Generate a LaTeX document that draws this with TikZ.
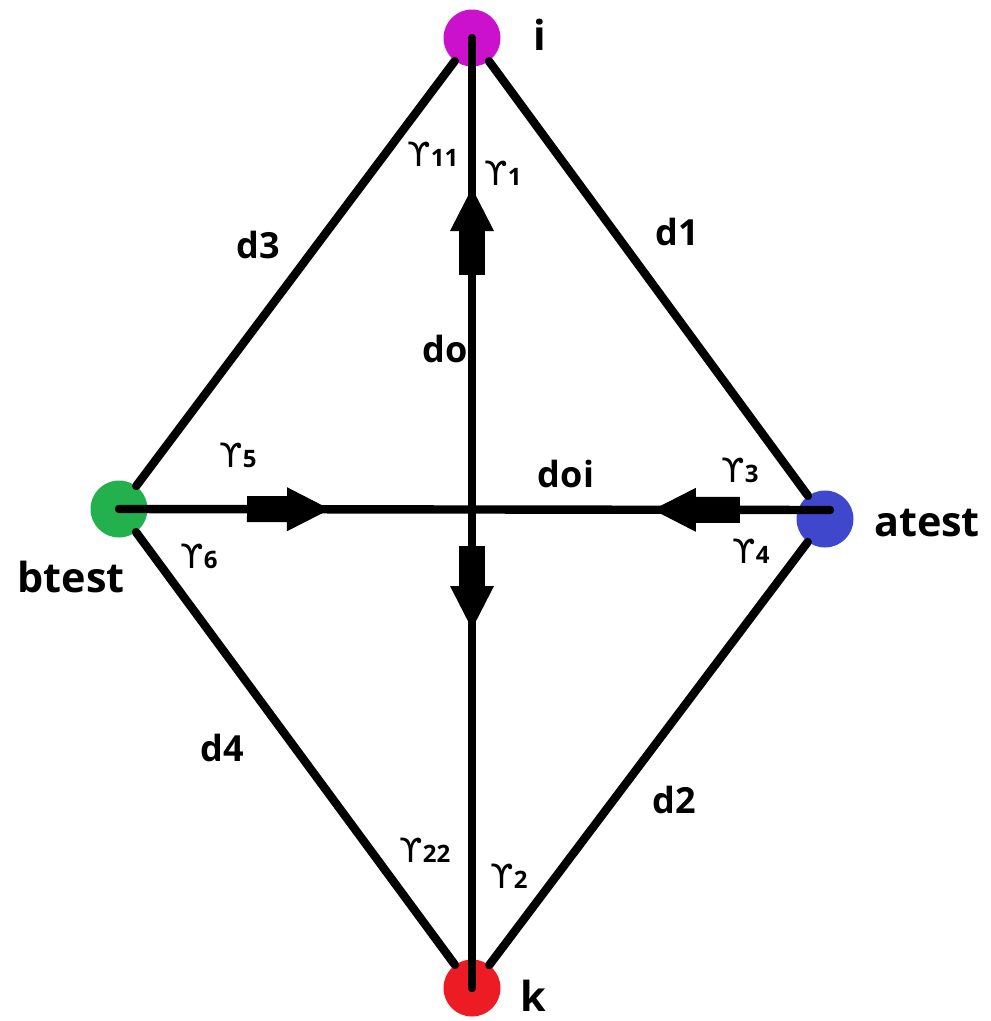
\documentclass[tikz,border=0pt]{standalone}
\usepackage{fontspec}
\setmainfont{Open Sans}
\newfontfamily\gfont{DejaVu Sans}
\usetikzlibrary{decorations.markings}
\definecolor{cmag}{RGB}{204,17,204}
\definecolor{cgreen}{RGB}{34,177,76}
\definecolor{cblue}{RGB}{63,72,204}
\definecolor{cred}{RGB}{237,28,36}
\newcommand\gamlab[1]{{\gfont\mdseries\fontsize{25}{28}\selectfont ϒ}{\fontsize{18}{20}\selectfont #1}}
\begin{document}
\begin{tikzpicture}[x=0.75pt,y=-0.75pt,
  vdot/.style={circle,inner sep=0pt,minimum size=42.75pt,draw=none},
  seg/.style={line width=6.3pt,line cap=round},
  labbig/.style={font=\bfseries\fontsize{31}{36}\selectfont,inner sep=0pt},
  labmid/.style={font=\bfseries\fontsize{27}{32}\selectfont,inner sep=0pt},
  labgam/.style={font=\bfseries\fontsize{24}{28}\selectfont,inner sep=0pt},
  fwdarrow/.style={postaction={decorate,decoration={markings,mark=at position #1 with {\fill (-41,-13) rectangle (0,13); \fill (-1,-22) -- (42,0) -- (-1,22) -- cycle;}}}},
  backarrow/.style={postaction={decorate,decoration={markings,mark=at position #1 with {\fill (0,-13) rectangle (45,13); \fill (1,-22) -- (-42,0) -- (1,22) -- cycle;}}}}
]
\useasboundingbox (0,0) rectangle (991,1021);
% vertices
\node[vdot,fill=cmag] (i) at (472,38) {};
\node[vdot,fill=cblue] (atest) at (825,519) {};
\node[vdot,fill=cgreen] (btest) at (119,509) {};
\node[vdot,fill=cred] (k) at (472,988) {};
\coordinate (hend) at (830,510);
% diamond edges
\draw[seg] (i) -- (atest);
\draw[seg] (i) -- (btest);
\draw[seg] (btest) -- (k);
\draw[seg] (atest) -- (k);
% cross lines with arrows
\draw[seg,backarrow=0.2021,fwdarrow=0.5779] (i.center) -- (k.center);
\draw[seg,fwdarrow=0.2377,backarrow=0.810] (btest.center) -- (hend);
% vertex labels
\node[labbig] (li) at (540,35) {i};
\node[labbig] (latest) at (927,523) {atest};
\node[labbig] (lbtest) at (71,577) {btest};
\node[labbig] (lk) at (533,996) {k};
% distance labels
\node[labmid] (ld3) at (258,245) {d3};
\node[labmid] (ld1) at (677,232) {d1};
\node[labmid] (ldo) at (445,349) {do};
\node[labmid] (ldoi) at (566,474) {doi};
\node[labmid] (ld4) at (222,748) {d4};
\node[labmid] (ld2) at (674,800) {d2};
% angle labels
\node[labgam] (g11) at (433,154) {\gamlab{11}};
\node[labgam] (g1) at (503,173) {\gamlab{1}};
\node[labgam] (g5) at (238,455) {\gamlab{5}};
\node[labgam] (g6) at (199,556) {\gamlab{6}};
\node[labgam] (g3) at (740,470) {\gamlab{3}};
\node[labgam] (g4) at (751,551) {\gamlab{4}};
\node[labgam] (g22) at (425,850) {\gamlab{22}};
\node[labgam] (g2) at (509,876) {\gamlab{2}};
\end{tikzpicture}
\end{document}
